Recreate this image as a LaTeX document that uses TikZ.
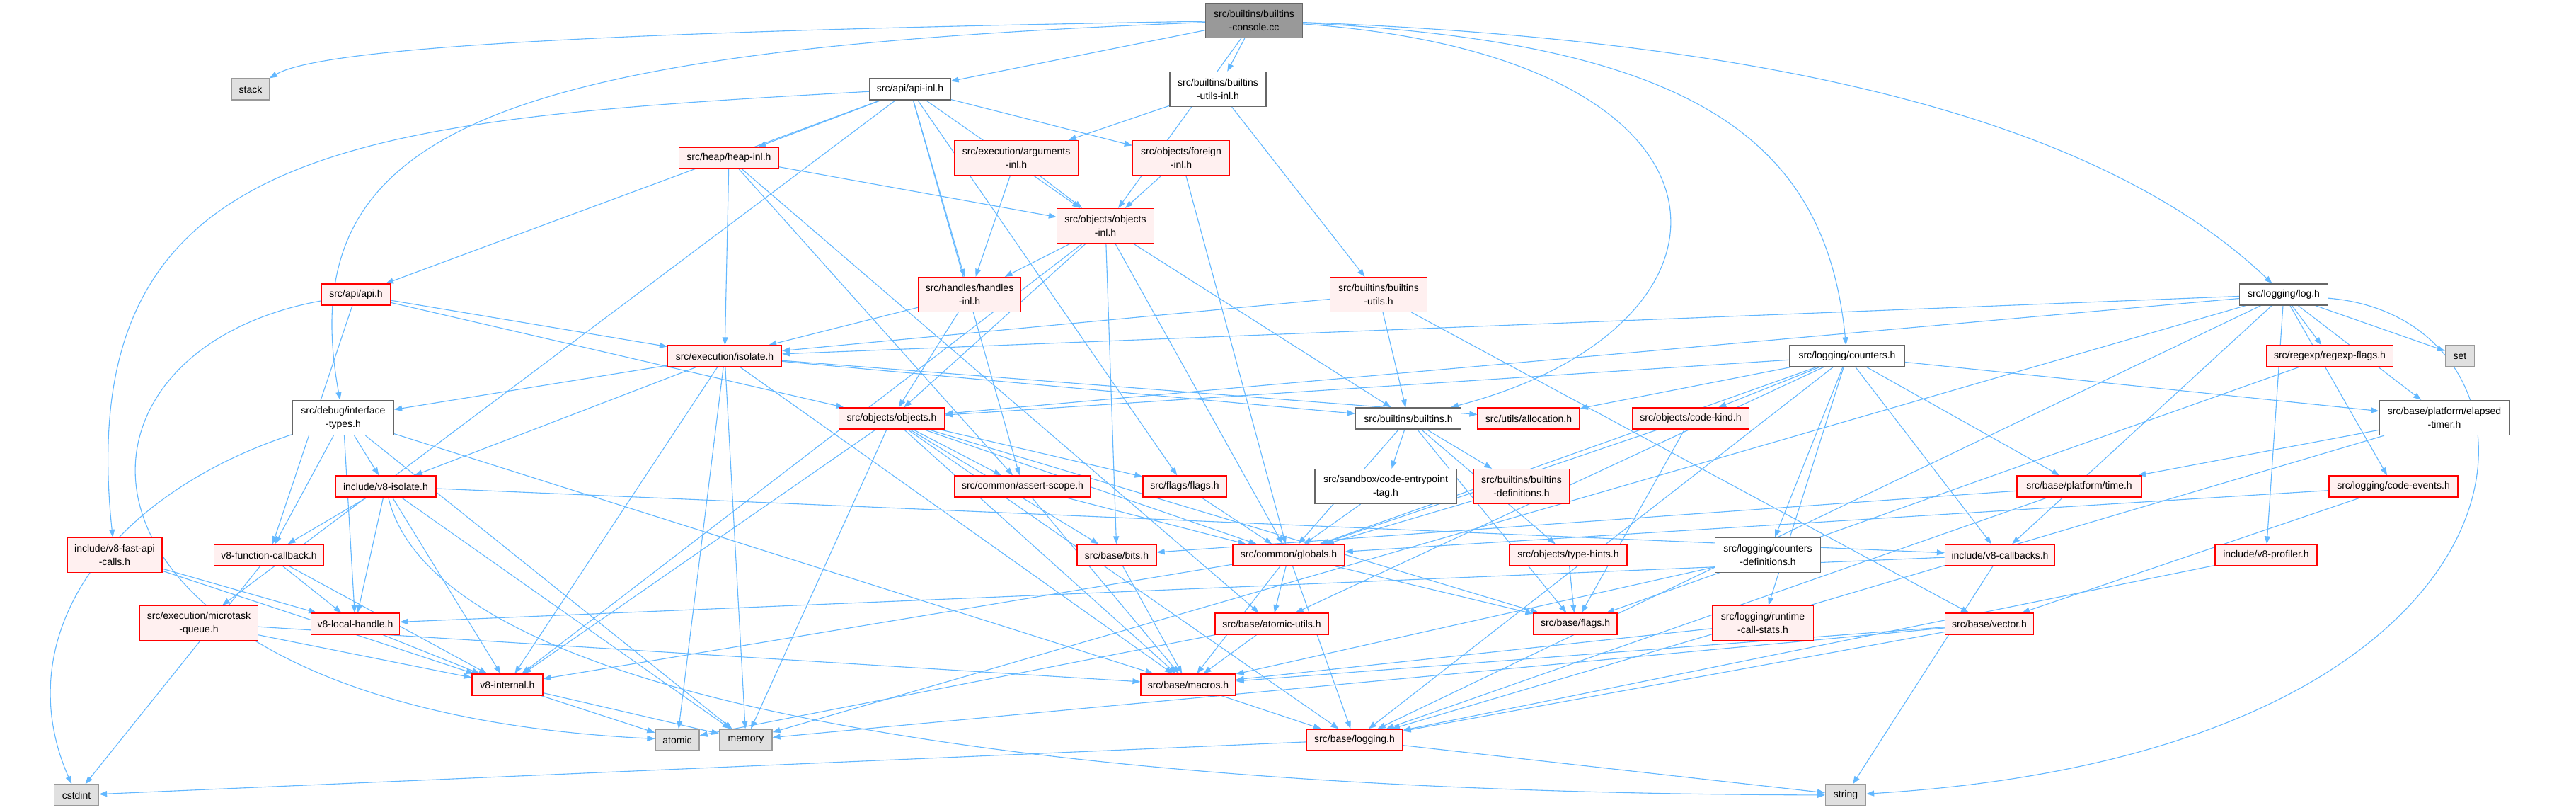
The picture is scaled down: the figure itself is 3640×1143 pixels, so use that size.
\documentclass[tikz,border=0pt]{standalone}
\usepackage{fontspec}
\setmainfont{Liberation Sans}
\usetikzlibrary{arrows.meta}
\pgfdeclarelayer{back}
\pgfdeclarelayer{bg}
\pgfsetlayers{back,bg,main}
\definecolor{edgeblue}{HTML}{63B8FF}
\definecolor{redfill}{HTML}{FFF0F0}
\definecolor{redline}{HTML}{FF0000}
\definecolor{sysfill}{HTML}{E0E0E0}
\definecolor{sysline}{HTML}{999999}
\definecolor{whiteline}{HTML}{666666}
\definecolor{rootfill}{HTML}{999999}
\newcommand\nfont{\fontsize{14}{19}\selectfont}
\tikzset{
  nd/.style={draw, line width=1.3pt, minimum height=30pt, inner xsep=2pt, inner ysep=2pt, align=center, font=\nfont, text=black},
  tall/.style={minimum height=49pt},
  rednd/.style={nd, fill=redfill, draw=redline},
  whnd/.style={nd, fill=white, draw=whiteline},
  sysnd/.style={nd, fill=sysfill, draw=sysline},
  rootnd/.style={nd, fill=rootfill, draw=whiteline},
  edge/.style={draw=edgeblue, line width=1.1pt, -{Triangle[length=11pt,width=8pt]}}
}
\begin{document}
\begin{tikzpicture}[x=1pt,y=-1pt]
\begin{pgfonlayer}{back}
\fill[white] (0,0) rectangle (3640,1143);
\end{pgfonlayer}
\useasboundingbox (0,0) rectangle (3640,1143);
% row 0
\node[rootnd, tall, minimum width=137pt] (root) at (1772,29) {src/builtins/builtins\\-console.cc};
% row 1
\node[sysnd, minimum width=53pt] (stack) at (354,126) {stack};
\node[whnd, minimum width=114pt] (apiinl) at (1286,126) {src/api/api-inl.h};
\node[whnd, tall, minimum width=136pt] (butilsinl) at (1721,126) {src/builtins/builtins\\-utils-inl.h};
% row 2
\node[rednd, minimum width=141pt] (heapinl) at (1030,223) {src/heap/heap-inl.h};
\node[rednd, tall, minimum width=175pt] (argsinl) at (1436,223) {src/execution/arguments\\-inl.h};
\node[rednd, tall, minimum width=137pt] (foreigninl) at (1669,223) {src/objects/foreign\\-inl.h};
% row 3
\node[rednd, tall, minimum width=137pt] (objinl) at (1562,319) {src/objects/objects\\-inl.h};
% row 4
\node[rednd, minimum width=97pt] (api) at (503,416) {src/api/api.h};
\node[rednd, tall, minimum width=144pt] (handlesinl) at (1370,416) {src/handles/handles\\-inl.h};
\node[rednd, tall, minimum width=137pt] (butils) at (1948,416) {src/builtins/builtins\\-utils.h};
\node[whnd, minimum width=125pt] (log) at (3227,416) {src/logging/log.h};
% row 5
\node[rednd, minimum width=161pt] (isolate) at (1024,503) {src/execution/isolate.h};
\node[whnd, minimum width=162pt] (counters) at (2610,503) {src/logging/counters.h};
\node[rednd, minimum width=179pt] (regexpflags) at (3292,503) {src/regexp/regexp-flags.h};
\node[sysnd, minimum width=41pt] (set) at (3476,503) {set};
% row 6
\node[whnd, tall, minimum width=143pt] (dbgtypes) at (485,590) {src/debug/interface\\-types.h};
\node[rednd, minimum width=149pt] (objects) at (1260,591) {src/objects/objects.h};
\node[whnd, minimum width=149pt] (builtins) at (1990,591) {src/builtins/builtins.h};
\node[rednd, minimum width=144pt] (alloc) at (2160,591) {src/utils/allocation.h};
\node[rednd, minimum width=165pt] (codekind) at (2389,591) {src/objects/code-kind.h};
\node[whnd, tall, minimum width=184pt] (elapsed) at (3454,590) {src/base/platform/elapsed\\-timer.h};
% row 7
\node[rednd, minimum width=142pt] (v8iso) at (545,687) {include/v8-isolate.h};
\node[rednd, minimum width=192pt] (assert) at (1445,687) {src/common/assert-scope.h};
\node[rednd, minimum width=118pt] (flags) at (1674,687) {src/flags/flags.h};
\node[whnd, tall, minimum width=200pt] (entrytag) at (1958,687) {src/sandbox/code-entrypoint\\-tag.h};
\node[rednd, tall, minimum width=136pt] (bdefs) at (2150,687) {src/builtins/builtins\\-definitions.h};
\node[rednd, minimum width=176pt] (time) at (2938,687) {src/base/platform/time.h};
\node[rednd, minimum width=182pt] (codeevents) at (3382,687) {src/logging/code-events.h};
% row 8
\node[rednd, tall, minimum width=134pt] (fastapi) at (162,784) {include/v8-fast-api\\-calls.h};
\node[rednd, minimum width=155pt] (funccb) at (380,784) {v8-function-callback.h};
\node[rednd, minimum width=112pt] (bits) at (1578,784) {src/base/bits.h};
\node[rednd, minimum width=158pt] (globals) at (1821,784) {src/common/globals.h};
\node[rednd, minimum width=166pt] (typehints) at (2216,784) {src/objects/type-hints.h};
\node[whnd, tall, minimum width=149pt] (countersdefs) at (2498,784) {src/logging/counters\\-definitions.h};
\node[rednd, minimum width=155pt] (callbacks) at (2826,784) {include/v8-callbacks.h};
\node[rednd, minimum width=144pt] (profiler) at (3202,784) {include/v8-profiler.h};
% row 9
\node[rednd, tall, minimum width=167pt] (microtask) at (281,880) {src/execution/microtask\\-queue.h};
\node[rednd, minimum width=125pt] (localhandle) at (502,881) {v8-local-handle.h};
\node[rednd, minimum width=160pt] (atomicutils) at (1797,881) {src/base/atomic-utils.h};
\node[rednd, minimum width=118pt] (baseflags) at (2226,881) {src/base/flags.h};
\node[rednd, tall, minimum width=143pt] (rcs) at (2491,880) {src/logging/runtime\\-call-stats.h};
\node[rednd, minimum width=125pt] (vector) at (2811,881) {src/base/vector.h};
% row 10
\node[rednd, minimum width=100pt] (v8internal) at (717,967) {v8-internal.h};
\node[rednd, minimum width=134pt] (macros) at (1679,967) {src/base/macros.h};
% row 11
\node[sysnd, minimum width=62pt] (atomic) at (957,1045) {atomic};
\node[sysnd, minimum width=74pt] (memory) at (1054,1045) {memory};
\node[rednd, minimum width=136pt] (baselogging) at (1914,1045) {src/base/logging.h};
% row 12
\node[sysnd, minimum width=63pt] (cstdint) at (108,1123) {cstdint};
\node[sysnd, minimum width=57pt] (string) at (2608,1123) {string};

\begin{pgfonlayer}{bg}
\foreach \a/\b in {
 root/apiinl, root/butilsinl, root/objinl,
 apiinl/api, apiinl/microtask, apiinl/heapinl, apiinl/foreigninl, apiinl/objinl, apiinl/handlesinl, apiinl/assert, apiinl/flags,
 butilsinl/argsinl, butilsinl/butils,
 heapinl/objinl, heapinl/isolate, heapinl/assert, heapinl/atomicutils,
 argsinl/handlesinl, argsinl/objinl,
 foreigninl/objinl, foreigninl/globals,
 objinl/handlesinl, objinl/objects, objinl/bits, objinl/globals, objinl/builtins, objinl/v8internal,
 api/isolate, api/objects, api/funccb,
 dbgtypes/funccb, dbgtypes/localhandle, dbgtypes/v8iso, dbgtypes/memory, dbgtypes/macros,
 v8iso/funccb, v8iso/localhandle, v8iso/v8internal, v8iso/memory, v8iso/callbacks,
 isolate/dbgtypes, isolate/v8iso, isolate/builtins, isolate/alloc, isolate/v8internal, isolate/atomic, isolate/memory, isolate/macros,
 handlesinl/isolate, handlesinl/objects,
 objects/assert, objects/flags, objects/bits, objects/globals, objects/v8internal, objects/memory, objects/baseflags, objects/baselogging, objects/macros,
 assert/globals, assert/macros,
 flags/globals,
 butils/isolate, butils/builtins, butils/vector,
 builtins/entrytag, builtins/bdefs, builtins/typehints, builtins/globals, builtins/baseflags,
 entrytag/globals, bdefs/globals,
 codekind/baseflags, codekind/globals,
 counters/objects, counters/alloc, counters/codekind, counters/elapsed, counters/time, counters/globals, counters/atomicutils, counters/callbacks, counters/countersdefs, counters/rcs, counters/baselogging,
 log/isolate, log/objects, log/regexpflags, log/set, log/elapsed, log/codeevents, log/profiler, log/callbacks, log/baselogging, log/memory,
 regexpflags/baseflags,
 elapsed/time, elapsed/baselogging,
 time/bits, time/baselogging,
 codeevents/vector, codeevents/globals,
 fastapi/localhandle, fastapi/v8internal,
 funccb/localhandle, funccb/v8internal, funccb/cstdint,
 microtask/v8internal, microtask/macros,
 localhandle/v8internal,
 v8internal/atomic, v8internal/memory,
 globals/v8internal, globals/macros, globals/baseflags, globals/baselogging, globals/atomicutils,
 atomicutils/macros, atomicutils/atomic,
 bits/macros,
 typehints/baseflags,
 countersdefs/macros,
 rcs/macros,
 vector/memory, vector/baselogging, vector/macros,
 callbacks/localhandle, callbacks/string,
 profiler/baselogging,
 macros/baselogging,
 baselogging/cstdint, baselogging/string}
 {\draw[edge] (\a) -- (\b);}
% curved connectors
\draw[edge] (root) .. controls (800,45) and (450,70) .. (stack);
\draw[edge] (root) .. controls (700,70) and (410,180) .. (dbgtypes);
\draw[edge] (root) .. controls (2400,60) and (2580,200) .. (counters);
\draw[edge] (root) .. controls (2600,60) and (3000,200) .. (log);
\draw[edge] (root) .. controls (2492,80) and (2492,460) .. (builtins);
\draw[edge] (apiinl) .. controls (500,170) and (100,200) .. (fastapi);
\draw[edge] (api) .. controls (40,500) and (60,1000) .. (atomic);
\draw[edge] (dbgtypes) .. controls (150,700) and (10,900) .. (cstdint);
\draw[edge] (v8iso) .. controls (620,1000) and (1500,1120) .. (string);
\draw[edge] (log) .. controls (3640,450) and (3640,1060) .. (string);
\end{pgfonlayer}
\end{tikzpicture}
\end{document}
